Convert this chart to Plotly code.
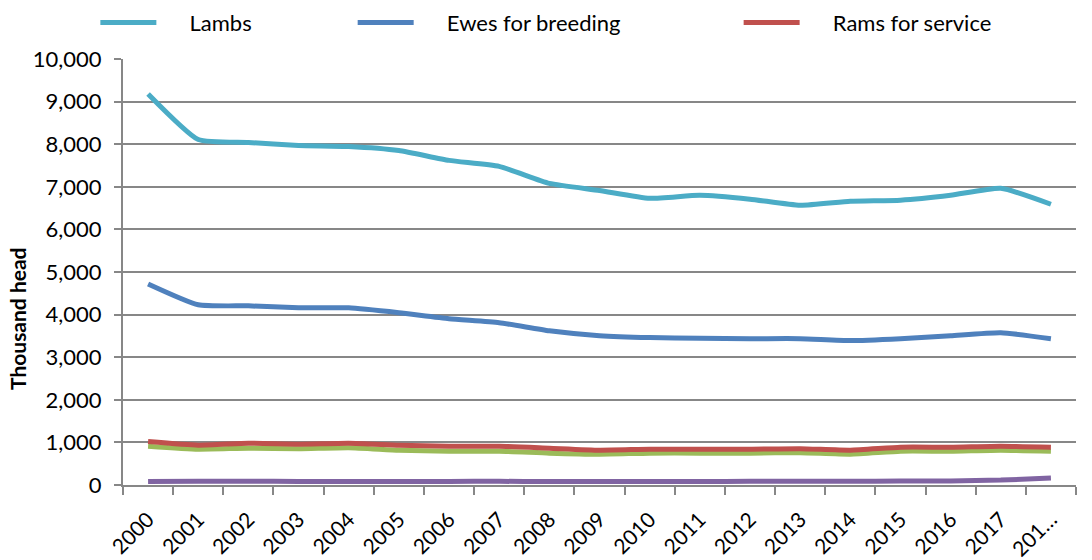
import plotly.graph_objects as go

years = [str(y) for y in range(2000, 2019)]
tick_labels = years[:-1] + ["201…"]

lambs = [9180, 8110, 8040, 7970, 7945, 7850, 7620, 7480, 7080, 6915, 6730, 6800, 6710, 6565, 6660, 6685, 6800, 6965, 6590]
ewes = [4720, 4230, 4205, 4160, 4160, 4045, 3905, 3810, 3620, 3505, 3460, 3445, 3435, 3435, 3390, 3435, 3505, 3575, 3435]
rams = [1020, 935, 980, 958, 980, 935, 911, 911, 865, 818, 841, 841, 841, 853, 818, 888, 888, 911, 888]
other = [911, 841, 865, 853, 876, 818, 794, 794, 748, 724, 748, 748, 748, 759, 724, 794, 794, 818, 794]
small = [82, 90, 88, 85, 84, 82, 84, 86, 82, 80, 82, 84, 86, 88, 90, 92, 95, 115, 164]

NB = "\u00a0" * 5
# name, values, colour, legend id (None = hidden)
series = [
    ("Lambs", lambs, "#4BACC6", "legend"),
    ("Ewes for breeding", ewes, "#4F81BD", "legend2"),
    ("Other sheep", other, "#9BBB59", None),
    ("Other", small, "#8064A2", None),
    ("Rams for service", rams, "#C0504D", "legend3"),
]

fig = go.Figure()
for name, vals, color, leg in series:
    fig.add_trace(go.Scatter(
        x=years, y=vals, name=NB + name, mode="lines",
        line=dict(color=color, width=5, shape="spline", smoothing=0.5),
        showlegend=leg is not None, legend=leg or "legend",
    ))

font = "Lato, 'Liberation Sans', sans-serif"
leg_common = dict(orientation="h", xanchor="left", y=1.085, yanchor="middle",
                  font=dict(size=22, family=font), itemwidth=56, bgcolor="rgba(0,0,0,0)")
fig.update_layout(
    width=1092, height=560,
    margin=dict(l=123, r=16, t=59, b=75, autoexpand=False),
    paper_bgcolor="white", plot_bgcolor="white",
    font=dict(family=font, size=21, color="black"),
    legend=dict(x=-0.029, **leg_common),
    legend2=dict(x=0.241, **leg_common),
    legend3=dict(x=0.646, **leg_common),
    showlegend=True,
    annotations=[dict(text="<b>Thousand head</b>", textangle=-90, xref="paper", yref="paper",
                      x=-0.11, y=0.39, xanchor="center", yanchor="middle", showarrow=False,
                      font=dict(size=21, family=font))],
)
fig.update_xaxes(
    type="category", tickvals=years, ticktext=tick_labels, tickangle=-45,
    ticks="outside", tickson="boundaries", ticklen=8, tickwidth=2, tickcolor="#878787",
    showline=True, linecolor="#878787", linewidth=2, showgrid=False,
    tickfont=dict(size=21), range=[-0.5, 18.5], ticklabelstandoff=12,
)
fig.update_yaxes(
    range=[0, 10000], dtick=1000, tickformat=",",
    showgrid=True, gridcolor="#878787", gridwidth=2,
    showline=True, linecolor="#878787", linewidth=2,
    ticks="outside", ticklen=7, tickwidth=2, tickcolor="#878787",
    zeroline=False, tickfont=dict(size=22), ticklabelstandoff=8,
)
fig.write_html("out.html")
